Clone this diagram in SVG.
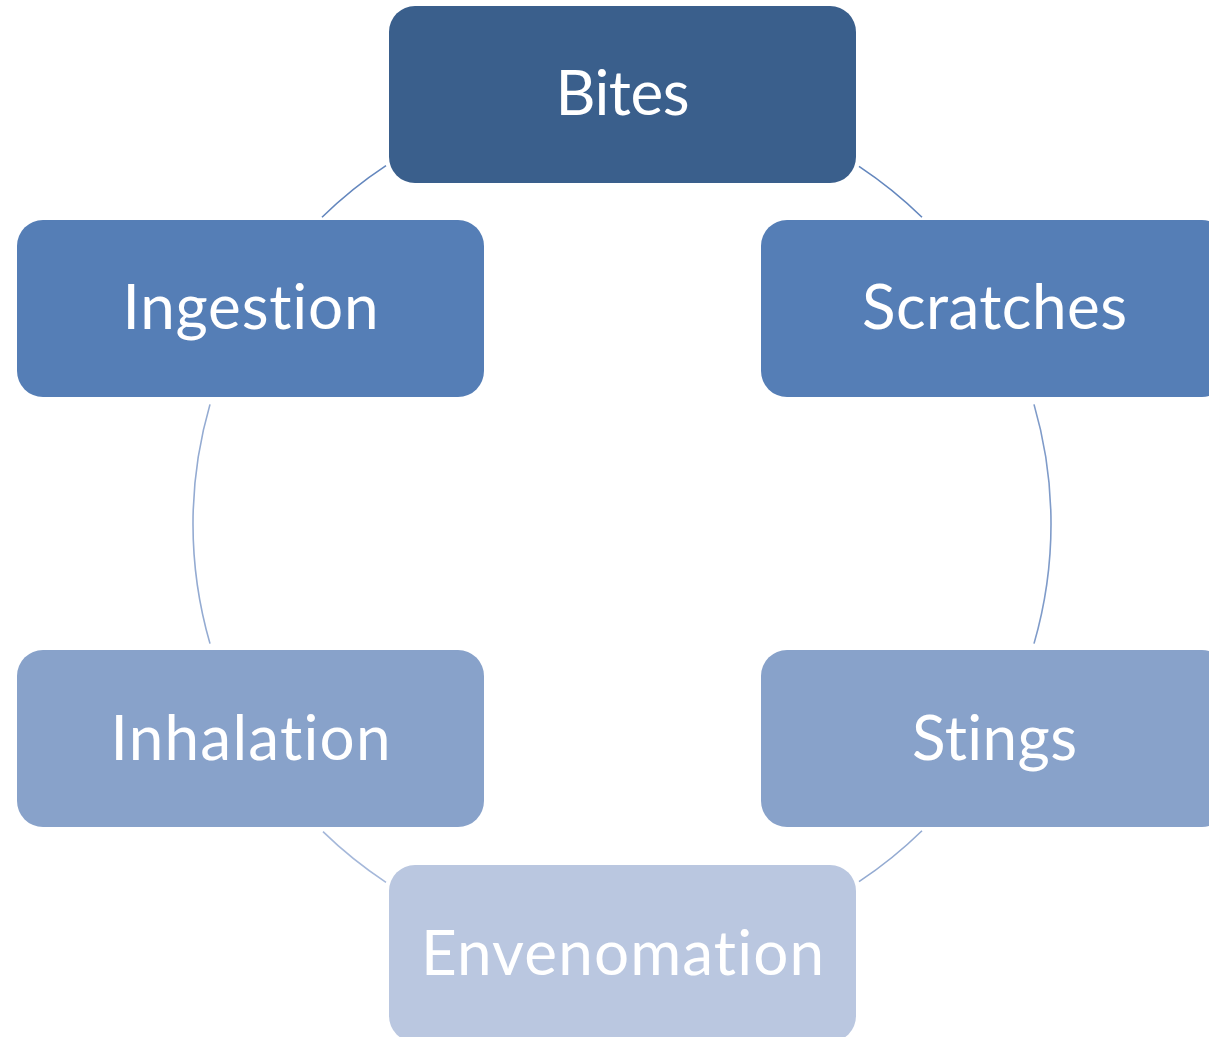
<svg xmlns="http://www.w3.org/2000/svg" width="1209" height="1037" viewBox="0 0 1209 1037">
<style>
.box{stroke:none}
.lbl{font-family:"Lato","Open Sans","Liberation Sans",sans-serif;font-size:62px;fill:#ffffff;text-anchor:middle;font-variant-ligatures:none;font-feature-settings:"liga" 0,"clig" 0}
.arc{fill:none;stroke-width:1.6}
</style>
<rect width="1209" height="1037" fill="#ffffff"/>
<g id="connectors">
<path class="arc" stroke="#6487BE" d="M859,166.4 A429,429 0 0 1 922,217.3"/>
<path class="arc" stroke="#7F9BC9" d="M1034,404.4 A429,429 0 0 1 1034,643.6"/>
<path class="arc" stroke="#94ABD2" d="M922,830.7 A429,429 0 0 1 859,881.6"/>
<path class="arc" stroke="#A5B8DA" d="M386,882.3 A429,429 0 0 1 323,831.6"/>
<path class="arc" stroke="#94ABD2" d="M210,643.6 A429,429 0 0 1 210,404.4"/>
<path class="arc" stroke="#6487BE" d="M322,217.3 A429,429 0 0 1 386,165.7"/>
</g>
<g id="bites"><rect class="box" x="389" y="6" width="467" height="177" rx="26" fill="#3A5F8C"/><text class="lbl" x="622.5" y="115" textLength="134">Bites</text></g>
<g id="scratches"><rect class="box" x="761" y="220" width="467" height="177" rx="26" fill="#557EB6"/><text class="lbl" x="994.5" y="329" textLength="265">Scratches</text></g>
<g id="stings"><rect class="box" x="761" y="650" width="467" height="177" rx="26" fill="#88A2CA"/><text class="lbl" x="994.5" y="760" textLength="165">Stings</text></g>
<g id="envenomation"><rect class="box" x="389" y="865" width="467" height="177" rx="26" fill="#BAC7E0"/><text class="lbl" x="622.5" y="975" textLength="403">Envenomation</text></g>
<g id="inhalation"><rect class="box" x="17" y="650" width="467" height="177" rx="26" fill="#88A2CA"/><text class="lbl" x="250.5" y="760" textLength="280">Inhalation</text></g>
<g id="ingestion"><rect class="box" x="17" y="220" width="467" height="177" rx="26" fill="#557EB6"/><text class="lbl" x="250.5" y="329" textLength="256">Ingestion</text></g>
</svg>
